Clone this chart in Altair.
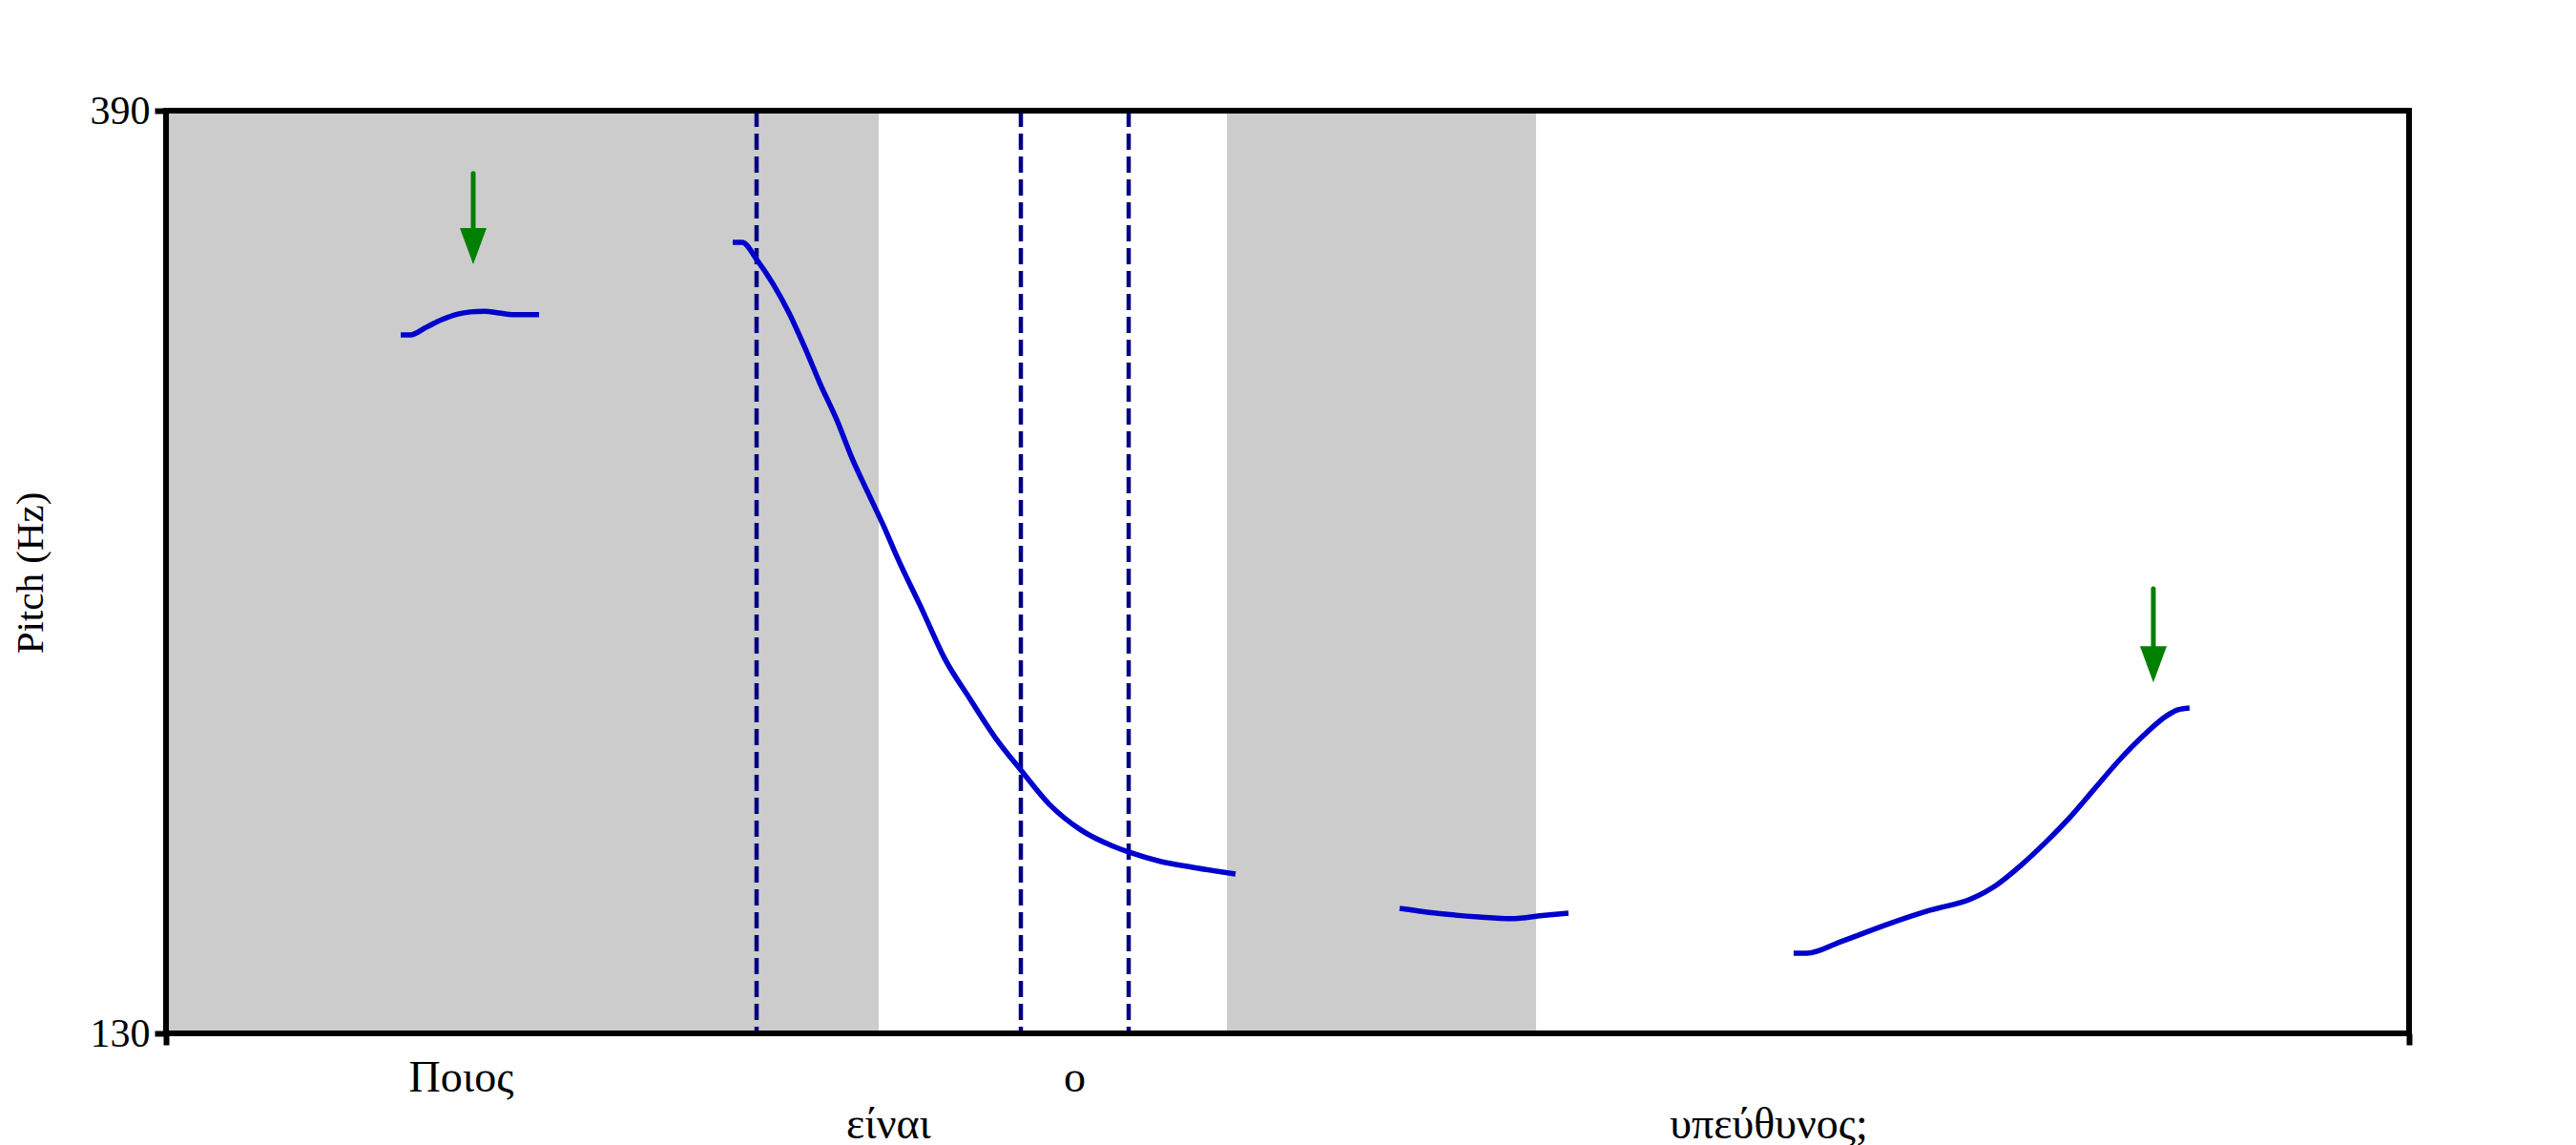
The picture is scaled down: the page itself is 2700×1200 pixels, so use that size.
import altair as alt
import pandas as pd

# ---- data (time in ms, pitch in Hz) ----
T_END = 2351
HZ_MIN, HZ_MAX = 130, 390

c1_t = [246, 256, 273, 289, 306, 319, 333, 349, 363, 391]
c1_hz = [326.8, 326.8, 329.0, 331.1, 332.7, 333.3, 333.5, 333.0, 332.5, 332.5]

c2_t = [594, 604, 619, 636, 653, 669, 686, 703, 719, 736, 753, 766, 793, 816,
        843, 869, 896, 926, 959, 993, 1009, 1043, 1076, 1121]
c2_hz = [352.9, 352.9, 348.1, 341.3, 333.0, 323.6, 312.8, 302.9, 292.1, 282.2,
         272.5, 264.4, 249.1, 235.7, 224.1, 213.4, 204.2, 194.5, 187.3, 182.7,
         181.1, 178.4, 176.8, 174.9]

c3_t = [1293, 1324, 1376, 1410, 1445, 1470]
c3_hz = [165.2, 164.1, 162.8, 162.3, 163.3, 163.9]

c4_t = [1706, 1720, 1755, 1806, 1849, 1892, 1918, 1944, 1970, 1996, 2021, 2047,
        2073, 2096, 2108, 2121]
c4_hz = [152.6, 152.6, 155.8, 160.9, 164.7, 167.9, 171.7, 177.3, 183.8, 191.0,
         198.8, 206.9, 214.0, 219.3, 221.1, 221.7]

band_start = [0, 1112]
band_end = [747, 1436]

boundaries = [619, 896, 1009]

words = ["Ποιος", "είναι", "ο", "υπεύθυνος;"]
word_start = [0, 619, 896, 1009]
word_end = [619, 896, 1009, 2351]
word_row = [0, 1, 0, 1]

arrow_t = [322, 2083]
arrow_top = [372.3, 255.3]
arrow_tip = [346.7, 228.9]

# ---- tables ----
rows = []
for seg, (ts, hs) in enumerate([(c1_t, c1_hz), (c2_t, c2_hz), (c3_t, c3_hz), (c4_t, c4_hz)]):
    for t, h in zip(ts, hs):
        rows.append({"seg": seg, "t": t, "hz": h})
pitch_df = pd.DataFrame(rows)
band_df = pd.DataFrame({"start": band_start, "end": band_end})
bound_df = pd.DataFrame({"t": boundaries})
word_df = pd.DataFrame({"word": words, "start": word_start, "end": word_end, "row": word_row})
arrow_df = pd.DataFrame({"t": arrow_t, "top": arrow_top, "tip": arrow_tip})
frame_df = pd.DataFrame({"x0": [0], "x1": [T_END], "y0": [HZ_MIN], "y1": [HZ_MAX]})

FONT = "Liberation Serif"
W, H = 2351, 967

x_scale = alt.Scale(domain=[0, T_END], nice=False, zero=False)
y_scale = alt.Scale(domain=[HZ_MIN, HZ_MAX], nice=False, zero=False)
x_axis = alt.Axis(values=[0, T_END], labels=False, ticks=True, tickSize=12, tickWidth=6,
                  tickColor="black", domain=False, grid=False, title=None)
y_axis = alt.Axis(values=[HZ_MIN, HZ_MAX], ticks=True, tickSize=12, tickWidth=6,
                  tickColor="black", domain=False, grid=False,
                  labelFont=FONT, labelFontSize=42, labelColor="black", labelPadding=5,
                  title="Pitch (Hz)", titleFont=FONT, titleFontSize=41,
                  titleFontWeight="normal", titleColor="black",
                  titleX=-142, titleY=484, titleAngle=270, titleAlign="center",
                  titleBaseline="middle")


def X(f):
    return alt.X(f"{f}:Q", scale=x_scale, axis=x_axis)


def Y(f):
    return alt.Y(f"{f}:Q", scale=y_scale, axis=y_axis)


bands = alt.Chart(band_df).mark_rect(color="#CCCCCC").encode(
    x=X("start"), x2="end:Q"
)

bounds = alt.Chart(bound_df).mark_rule(color="#000080", strokeWidth=4.5, strokeDash=[17, 7]).encode(
    x=X("t")
)

lines = alt.Chart(pitch_df).mark_line(color="#0000CD", strokeWidth=5.5, interpolate="monotone").encode(
    x=X("t"), y=Y("hz"), detail="seg:N", order="t:Q"
)

shafts = alt.Chart(arrow_df).mark_rule(color="#008000", strokeWidth=5, strokeCap="round",
                                       y2Offset=-30).encode(
    x=X("t"), y=Y("top"), y2="tip:Q"
)

heads = alt.Chart(arrow_df).mark_point(
    shape="M-0.737,-2L0.737,-2L0,0Z", size=1444, filled=True, color="#008000",
    opacity=1, strokeWidth=0
).encode(x=X("t"), y=Y("tip"))

frame = alt.Chart(frame_df).mark_rect(fill="transparent", stroke="black", strokeWidth=6).encode(
    x=X("x0"), x2="x1:Q", y=Y("y0"), y2="y1:Q"
)

words_base = alt.Chart(word_df).transform_calculate(mid="(datum.start + datum.end) / 2")
words_top = words_base.transform_filter("datum.row == 0").mark_text(
    font=FONT, fontSize=46, color="black", align="center", baseline="alphabetic"
).encode(x=X("mid"), y=alt.value(1028), text="word:N")
words_bot = words_base.transform_filter("datum.row == 1").mark_text(
    font=FONT, fontSize=46, color="black", align="center", baseline="alphabetic"
).encode(x=X("mid"), y=alt.value(1077), text="word:N")

chart = alt.layer(bands, bounds, lines, shafts, heads, frame, words_top, words_bot).properties(
    width=W, height=H,
    autosize=alt.AutoSizeParams(type="none"),
    padding={"left": 166, "top": 108, "right": 150, "bottom": 125},
    background="white",
).configure_view(stroke=None)

chart.save("out.html", embed_options={"renderer": "svg", "actions": False})
